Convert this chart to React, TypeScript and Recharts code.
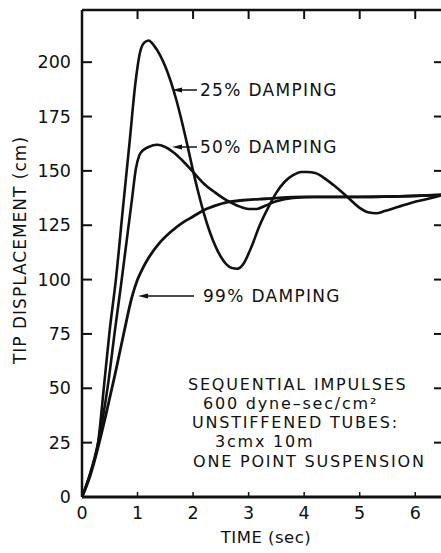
import React from 'react';
import { LineChart, Line, XAxis, YAxis } from 'recharts';

const xTicks = [0, 1, 2, 3, 4, 5, 6];
const yTicks = [0, 25, 50, 75, 100, 125, 150, 175, 200];

// 25% damping
const time25 = [0, 0.15, 0.29, 0.4, 0.5, 0.61, 0.73, 0.86, 0.96, 1.04, 1.12, 1.2, 1.3, 1.4, 1.5, 1.6, 1.7, 1.8, 1.9, 2.0, 2.1, 2.2, 2.3, 2.4, 2.5, 2.6, 2.7, 2.8, 2.9, 3.05, 3.2, 3.35, 3.5, 3.65, 3.8, 3.95, 4.05, 4.2, 4.4, 4.6, 4.8, 5.0, 5.15, 5.3, 5.45, 5.7, 5.95, 6.2, 6.5];
const disp25 = [0, 11, 25, 52, 77, 100, 131, 164, 190, 204, 209, 210, 207.5, 203.5, 198, 191, 182.5, 172.5, 161.5, 150, 139.5, 130, 122, 115.5, 110.5, 107, 105.3, 105, 107, 115, 125, 133, 140, 145, 148, 149.5, 149.5, 149, 146, 142, 137.5, 133, 131, 130.5, 131.5, 133.5, 135.5, 137, 139];

// 50% damping
const time50 = [0, 0.15, 0.29, 0.47, 0.6, 0.7, 0.8, 0.9, 0.97, 1.03, 1.1, 1.2, 1.35, 1.5, 1.65, 1.8, 2.0, 2.2, 2.4, 2.6, 2.8, 3.0, 3.15, 3.3, 3.5, 3.8, 4.2, 5, 6, 6.5];
const disp50 = [0, 11, 25, 52, 78, 97, 117, 137, 151, 157, 159.5, 161, 162, 161, 158.5, 155, 149.5, 144, 140, 136.5, 134, 132.5, 132.5, 134, 136, 137.5, 138, 138, 138.5, 139];

// 99% damping
const time99 = [0, 0.15, 0.3, 0.45, 0.6, 0.75, 0.9, 1.0, 1.1, 1.2, 1.4, 1.6, 1.8, 2.0, 2.2, 2.4, 2.6, 2.9, 3.2, 3.5, 4, 5, 6, 6.5];
const disp99 = [0, 10, 24, 40, 57, 75, 92, 100, 105.5, 110, 117, 122, 126, 129, 132, 134, 135.5, 136.5, 137, 137.5, 138, 138, 138.5, 139];

const noteLines = [
  'SEQUENTIAL IMPULSES',
  '600 dyne\u2013sec/cm\u00b2',
  'UNSTIFFENED TUBES:',
  '3cmx 10m',
  'ONE POINT SUSPENSION',
];

const FONT = '"DejaVu Sans", sans-serif';
const INK = '#111';

const toData = (ts: number[], vs: number[]) => ts.map((t, i) => ({ t, v: vs[i] }));

function LeftTick(props: any) {
  const { x, y, payload } = props;
  return (
    <g>
      <line x1={x} x2={x + 10} y1={y} y2={y} stroke={INK} strokeWidth={2} />
      <text x={x - 11} y={y} dy={6} textAnchor="end" fontSize={17.5} fontFamily={FONT} fill={INK}>
        {payload.value}
      </text>
    </g>
  );
}

function RightTick(props: any) {
  const { x, y, payload } = props;
  if (payload.value === 0) return <g />;
  return <line x1={x - 9} x2={x} y1={y} y2={y} stroke={INK} strokeWidth={2} />;
}

function BottomTick(props: any) {
  const { x, y, payload } = props;
  return (
    <g>
      {payload.value !== 0 && <line x1={x} x2={x} y1={y - 5} y2={y} stroke={INK} strokeWidth={1.5} />}
      <text x={x} y={y + 22} textAnchor="middle" fontSize={17.5} fontFamily={FONT} fill={INK}>
        {payload.value}
      </text>
    </g>
  );
}

function TopTick(props: any) {
  const { x, y, payload } = props;
  if (payload.value === 0) return <g />;
  return <line x1={x} x2={x} y1={y} y2={y + 9} stroke={INK} strokeWidth={2} />;
}

function Arrow({ tip, end, y }: { tip: number; end: number; y: number }) {
  return (
    <g>
      <line x1={tip + 6} x2={end} y1={y} y2={y} stroke={INK} strokeWidth={1.5} />
      <polygon points={`${tip},${y} ${tip + 10},${y - 2.5} ${tip + 10},${y + 2.5}`} fill={INK} />
    </g>
  );
}

export default function App() {
  const data25 = toData(time25, disp25);
  const data50 = toData(time50, disp50);
  const data99 = toData(time99, disp99);
  const noteX = [188, 203, 192, 215, 193];
  const noteY = [390, 409, 428, 447, 467];

  return (
    <div style={{ position: 'absolute', left: 0, top: 0, width: 441, height: 553, overflow: 'hidden', background: '#fff' }}>
      <LineChart width={446} height={553} margin={{ top: 9, right: 0, left: 0, bottom: 0 }}>
        <XAxis
          dataKey="t"
          type="number"
          domain={[0, 6.5]}
          ticks={xTicks}
          height={56}
          tickSize={0}
          tickMargin={0}
          tick={BottomTick}
          axisLine={{ stroke: INK, strokeWidth: 3 }}
          tickLine={false}
          allowDataOverflow
        />
        <XAxis
          xAxisId="top"
          orientation="top"
          dataKey="t"
          type="number"
          domain={[0, 6.5]}
          ticks={xTicks}
          height={1}
          tickSize={0}
          tickMargin={0}
          tick={TopTick}
          axisLine={{ stroke: INK, strokeWidth: 2.5 }}
          tickLine={false}
          allowDataOverflow
        />
        <YAxis
          type="number"
          domain={[0, 224]}
          ticks={yTicks}
          width={82}
          tickSize={0}
          tickMargin={0}
          tick={LeftTick}
          axisLine={{ stroke: INK, strokeWidth: 2.5 }}
          tickLine={false}
          allowDataOverflow
        />
        <YAxis
          yAxisId="right"
          orientation="right"
          type="number"
          domain={[0, 224]}
          ticks={yTicks}
          width={3}
          tickSize={0}
          tickMargin={0}
          tick={RightTick}
          axisLine={false}
          tickLine={false}
          allowDataOverflow
        />
        <Line data={data25} dataKey="v" type="monotone" stroke={INK} strokeWidth={2.6} dot={false} isAnimationActive={false} />
        <Line data={data50} dataKey="v" type="monotone" stroke={INK} strokeWidth={2.6} dot={false} isAnimationActive={false} />
        <Line data={data99} dataKey="v" type="monotone" stroke={INK} strokeWidth={2.8} dot={false} isAnimationActive={false} />
      </LineChart>
      <svg width={441} height={553} style={{ position: 'absolute', left: 0, top: 0, pointerEvents: 'none' }}>
        <g fontFamily={FONT} fill={INK}>
          <text
            transform="translate(26,250) rotate(-90)"
            textAnchor="middle"
            fontSize={17}
            letterSpacing={1}
          >
            TIP DISPLACEMENT (cm)
          </text>
          <text x={266} y={543} textAnchor="middle" fontSize={16.5} letterSpacing={0.5}>
            TIME (sec)
          </text>

          <Arrow tip={172} end={197} y={90} />
          <text x={200} y={96} fontSize={17} letterSpacing={1.3}>25% DAMPING</text>
          <Arrow tip={172} end={197} y={147} />
          <text x={200} y={153} fontSize={17} letterSpacing={1.3}>50% DAMPING</text>
          <Arrow tip={138} end={194} y={296} />
          <text x={203} y={302} fontSize={17} letterSpacing={1.3}>99% DAMPING</text>

          {noteLines.map((s, i) => (
            <text key={i} x={noteX[i]} y={noteY[i]} fontSize={16} letterSpacing={1.8}>
              {s}
            </text>
          ))}
        </g>
      </svg>
    </div>
  );
}
